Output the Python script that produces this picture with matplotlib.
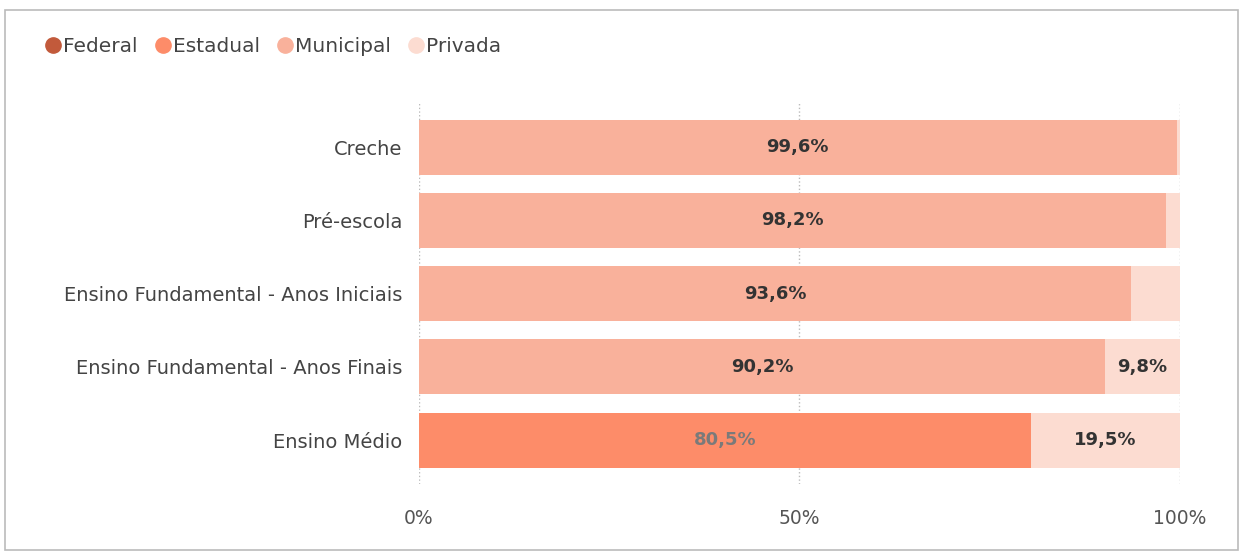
import matplotlib.pyplot as plt
from matplotlib.lines import Line2D
from matplotlib.patches import Rectangle

categorias = ["Creche", "Pré-escola", "Ensino Fundamental - Anos Iniciais",
              "Ensino Fundamental - Anos Finais", "Ensino Médio"]
federal = [0.0, 0.0, 0.0, 0.0, 0.0]
estadual = [0.0, 0.0, 0.0, 0.0, 80.5]
municipal = [99.6, 98.2, 93.6, 90.2, 0.0]
privada = [0.4, 1.8, 6.4, 9.8, 19.5]

series = ["Federal", "Estadual", "Municipal", "Privada"]
cores = ["#C25A3B", "#FD8C69", "#F9B19B", "#FCDCD1"]
cor_texto = {"Federal": "#333333", "Estadual": "#7a7a7a",
             "Municipal": "#333333", "Privada": "#333333"}

plt.rcParams['font.family'] = ['DejaVu Sans']

fig = plt.figure(figsize=(12.43, 5.52), dpi=100)
ax = fig.add_axes([0.337, 0.123, 0.612, 0.69])

y = list(range(len(categorias)))
esq = [0.0] * len(categorias)
for nome, vals, cor in zip(series, [federal, estadual, municipal, privada], cores):
    ax.barh(y, vals, left=esq, height=0.75, color=cor, zorder=2)
    for i, v in enumerate(vals):
        # rótulos pequenos demais não aparecem
        if v >= 9:
            ax.text(esq[i] + v / 2, i, f"{v:.1f}%".replace(".", ","),
                    ha="center", va="center", fontsize=13, fontweight="bold",
                    color=cor_texto[nome], zorder=3)
    esq = [a + b for a, b in zip(esq, vals)]

ax.set_yticks(y)
ax.set_yticklabels(categorias, fontsize=14, color="#444444")
ax.set_ylim(len(categorias) - 0.4, -0.6)
ax.set_xlim(0, 100)
ax.set_xticks([0, 50, 100])
ax.set_xticklabels(["0%", "50%", "100%"], fontsize=13.5, color="#555555")
ax.tick_params(length=0, pad=12)
ax.tick_params(axis="x", pad=18)
ax.grid(axis="x", linestyle=":", color="#bbbbbb", linewidth=1, zorder=0)
for s in ax.spines.values():
    s.set_visible(False)

handles = [Line2D([], [], marker="o", linestyle="", markersize=11,
                  markerfacecolor=c, markeredgecolor=c) for c in cores]
fig.legend(handles, series, loc="center left", bbox_to_anchor=(0.02, 0.915),
           ncol=4, frameon=False, fontsize=14.5, handletextpad=0.0,
           columnspacing=0.75, handlelength=1.0, labelcolor="#444444")

fig.add_artist(Rectangle((0.004, 0.004), 0.992, 0.978, transform=fig.transFigure,
                         fill=False, edgecolor="#bbbbbb", linewidth=1.2))

fig.savefig("out.png", dpi=100)
